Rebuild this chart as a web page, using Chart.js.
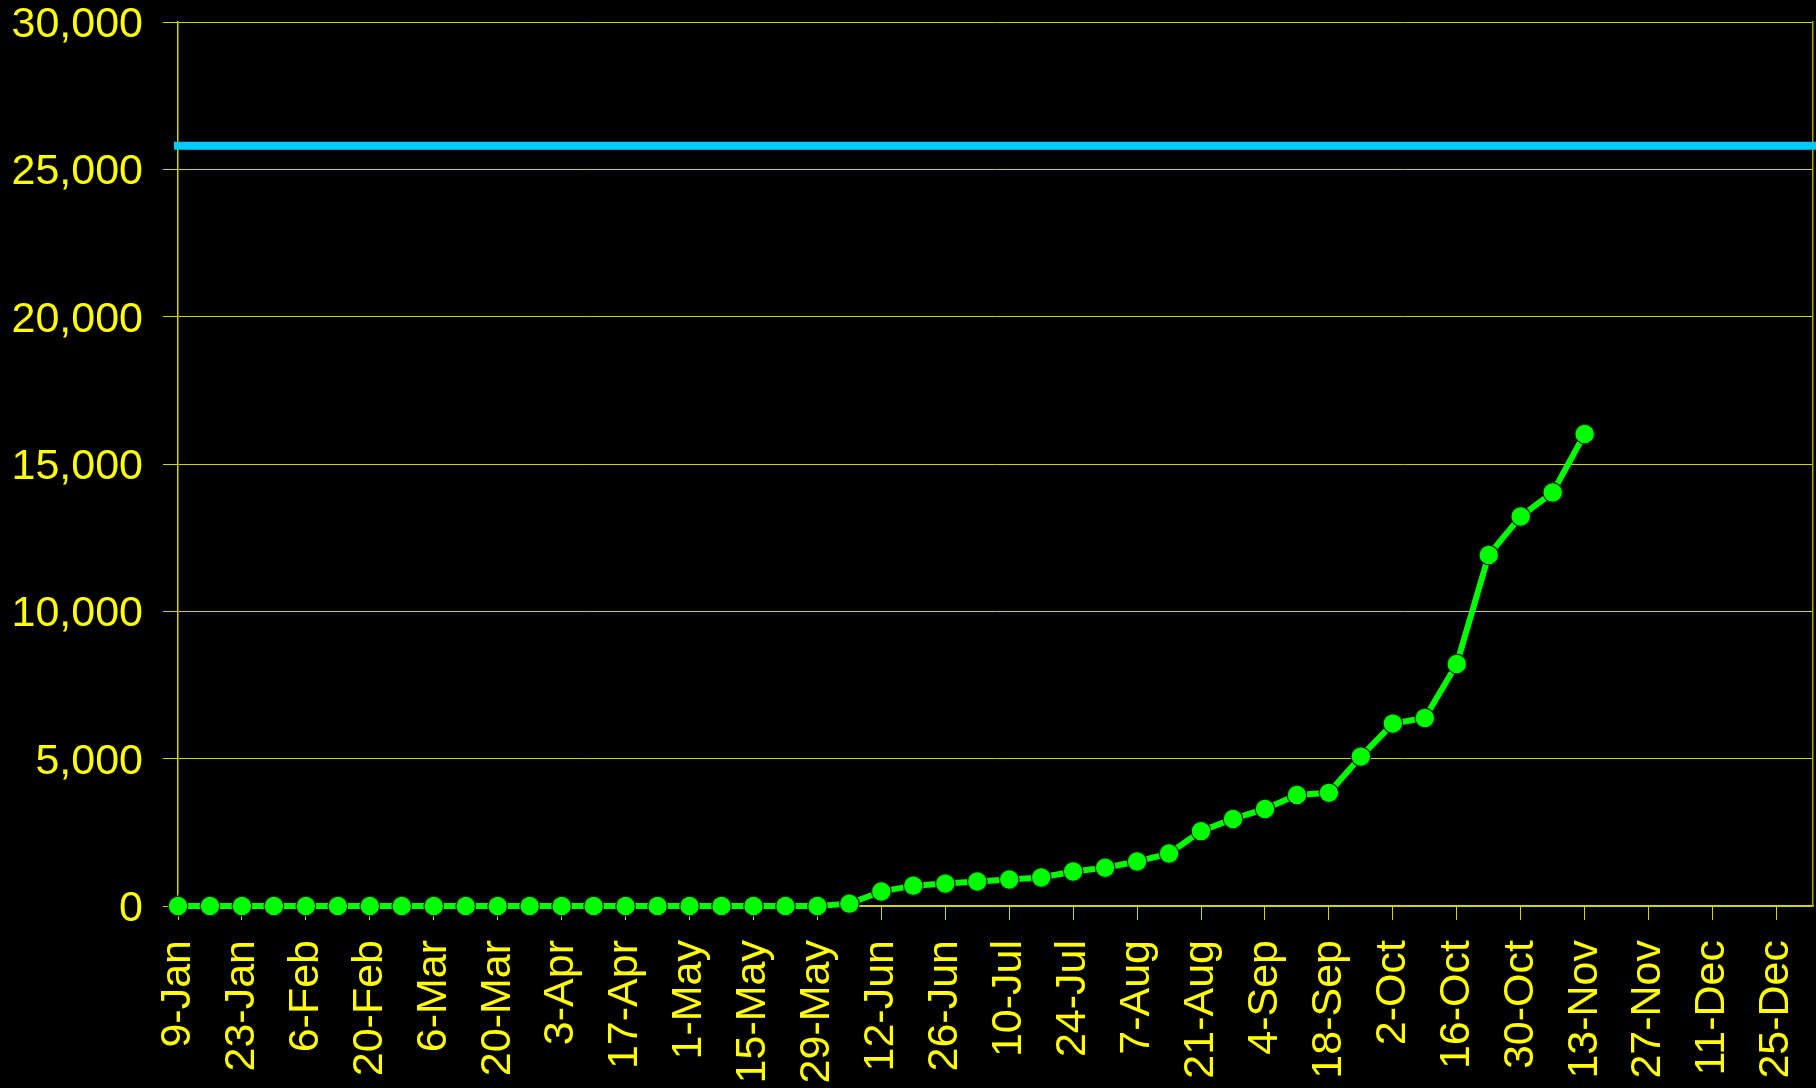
<!DOCTYPE html>
<html>
<head>
<meta charset="utf-8">
<script src="https://cdn.jsdelivr.net/npm/chart.js@4/dist/chart.umd.min.js"></script>
<style>
  html, body { margin: 0; padding: 0; background: #000; }
  canvas { display: block; }
</style>
</head>
<body>
<canvas id="c" width="1816" height="1088"></canvas>
<script>
// Weekly categories (9-Jan ... 1-Jan), labels shown every other week
const weekLabels = [
  '9-Jan','16-Jan','23-Jan','30-Jan','6-Feb','13-Feb','20-Feb','27-Feb',
  '6-Mar','13-Mar','20-Mar','27-Mar','3-Apr','10-Apr','17-Apr','24-Apr',
  '1-May','8-May','15-May','22-May','29-May','5-Jun','12-Jun','19-Jun',
  '26-Jun','3-Jul','10-Jul','17-Jul','24-Jul','31-Jul','7-Aug','14-Aug',
  '21-Aug','28-Aug','4-Sep','11-Sep','18-Sep','25-Sep','2-Oct','9-Oct',
  '16-Oct','23-Oct','30-Oct','6-Nov','13-Nov','20-Nov','27-Nov','4-Dec',
  '11-Dec','18-Dec','25-Dec','1-Jan'
];
// Cumulative weekly values (9-Jan .. 13-Nov)
const weeklyValues = [
  0,0,0,0,0,0,0,0,0,0,
  0,0,0,0,0,0,0,0,0,0,
  0,80,490,690,760,830,900,965,1170,1300,
  1510,1780,2540,2955,3295,3770,3840,5070,6190,6380,
  8215,11915,13220,14035,16020
];
const targetValue = 25800;
const yTicks = { min: 0, max: 30000, step: 5000 };
const xDays = { min: 0, max: 358, daysPerWeek: 7, labelStep: 14 };

const YELLOW = '#ffff00';
const GRID = '#d2d200';
const FONT = { family: "'Liberation Sans', Arial, sans-serif", size: 43, lineHeight: 1 };

const greenData = weeklyValues.map((v, i) => ({ x: i * xDays.daysPerWeek, y: v }));
const targetData = [{ x: xDays.min, y: targetValue }, { x: xDays.max, y: targetValue }];

new Chart(document.getElementById('c'), {
  type: 'line',
  data: {
    datasets: [
      {
        data: targetData,
        borderColor: '#00ccff',
        borderWidth: 8,
        borderCapStyle: 'square',
        pointRadius: 0,
        clip: false,
        order: 2
      },
      {
        data: greenData,
        borderColor: '#00ff00',
        backgroundColor: '#00ff00',
        borderWidth: 6,
        pointRadius: 9.8,
        pointBackgroundColor: '#00ff00',
        pointBorderColor: '#002000',
        pointBorderWidth: 1.2,
        clip: false,
        order: 1
      }
    ]
  },
  options: {
    responsive: false,
    animation: false,
    events: [],
    layout: { autoPadding: false, padding: { left: 0, top: 22, right: 3, bottom: 0 } },
    plugins: { legend: { display: false }, tooltip: { enabled: false } },
    scales: {
      x: {
        type: 'linear',
        position: 'bottom',
        min: xDays.min,
        max: xDays.max,
        grid: { drawOnChartArea: false, drawTicks: true, tickLength: 14, tickColor: GRID, lineWidth: 1 },
        border: { display: true, color: GRID, width: 1.5 },
        ticks: {
          stepSize: xDays.labelStep,
          includeBounds: false,
          autoSkip: false,
          maxTicksLimit: 100,
          minRotation: 90,
          maxRotation: 90,
          padding: 20,
          color: YELLOW,
          font: FONT,
          callback: (v) => {
            const idx = Math.round(v / xDays.daysPerWeek);
            return (v % xDays.labelStep === 0 && weekLabels[idx]) ? weekLabels[idx] : '';
          }
        },
        afterFit: (s) => { s.height = 182; s.paddingLeft = 0; s.paddingRight = 0; }
      },
      y: {
        type: 'linear',
        position: 'left',
        min: yTicks.min,
        max: yTicks.max,
        grid: { color: GRID, lineWidth: 1, tickLength: 15, tickColor: GRID },
        border: { display: true, color: GRID, width: 1.5 },
        ticks: {
          stepSize: yTicks.step,
          padding: 20,
          labelOffset: 3,
          color: YELLOW,
          font: FONT,
          callback: (v) => Number(v).toLocaleString('en-US')
        },
        afterFit: (s) => { s.width = 178; s.paddingTop = 0; s.paddingBottom = 0; }
      },
      yRight: {
        type: 'linear',
        position: 'right',
        min: yTicks.min,
        max: yTicks.max,
        grid: { display: false, drawTicks: false },
        border: { display: true, color: '#a8a800', width: 1.5 },
        ticks: { display: false },
        afterFit: (s) => { s.width = 0; s.paddingTop = 0; s.paddingBottom = 0; }
      }
    }
  }
});
</script>
</body>
</html>
